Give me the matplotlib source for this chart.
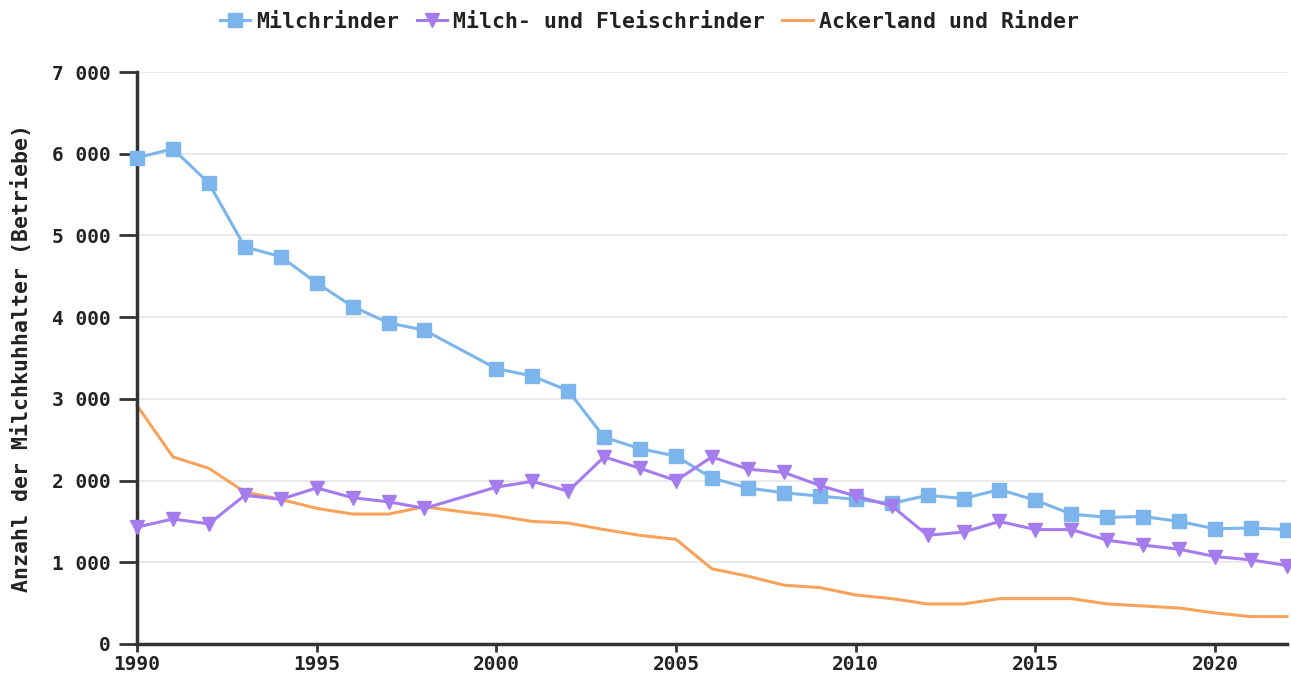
import numpy as np
import matplotlib.pyplot as plt
from matplotlib.ticker import FuncFormatter

# Werte
years_milch = [1990, 1991, 1992, 1993, 1994, 1995, 1996, 1997, 1998,
               2000, 2001, 2002, 2003, 2004, 2005, 2006, 2007, 2008, 2009,
               2010, 2011, 2012, 2013, 2014, 2015, 2016, 2017, 2018, 2019,
               2020, 2021, 2022]
milchrinder = [5950, 6060, 5640, 4860, 4740, 4420, 4130, 3930, 3840,
               3370, 3280, 3100, 2530, 2390, 2300, 2030, 1910, 1850, 1810,
               1770, 1720, 1820, 1780, 1890, 1760, 1590, 1550, 1560, 1500,
               1410, 1420, 1400]
milch_fleisch = [1430, 1530, 1470, 1820, 1770, 1910, 1790, 1740, 1660,
                 1920, 1990, 1870, 2290, 2150, 2000, 2290, 2140, 2100, 1940,
                 1810, 1690, 1330, 1370, 1500, 1400, 1400, 1270, 1210, 1160,
                 1070, 1030, 960]

years_acker = list(range(1990, 2023))
ackerland = [2920, 2290, 2150, 1860, 1770, 1660, 1590, 1590, 1680, 1620,
             1570, 1500, 1480, 1400, 1330, 1280, 920, 830, 720, 690,
             600, 555, 490, 490, 555, 555, 555, 490, 465, 440,
             380, 335, 335]

labels = ["Milchrinder", "Milch- und Fleischrinder", "Ackerland und Rinder"]
colors = ["#7cb5ec", "#a57cee", "#f7a35c"]

plt.rcParams['font.family'] = ['DejaVu Sans Mono']
plt.rcParams['font.weight'] = 'bold'

fig = plt.figure(figsize=(12.91, 6.84), dpi=100)
ax = fig.add_axes([0.1061, 0.0585, 0.8908, 0.8362])

ax.plot(years_milch, milchrinder, color=colors[0], lw=2.2, marker='s',
        markersize=10, label=labels[0], clip_on=False, zorder=3)
ax.plot(years_milch, milch_fleisch, color=colors[1], lw=2.2, marker='v',
        markersize=10, label=labels[1], clip_on=False, zorder=3)
ax.plot(years_acker, ackerland, color=colors[2], lw=2.2,
        label=labels[2], clip_on=False, zorder=2)

ax.set_xlim(1990, 2022)
ax.set_ylim(0, 7000)
ax.set_xticks(np.arange(1990, 2021, 5))
ax.set_yticks(np.arange(0, 7001, 1000))
ax.yaxis.set_major_formatter(FuncFormatter(lambda v, p: f"{int(v):,}".replace(",", " ")))

ax.grid(axis='y', color='#e6e6e6', lw=1.2)
ax.set_axisbelow(True)
for s in ['top', 'right']:
    ax.spines[s].set_visible(False)
for s in ['left', 'bottom']:
    ax.spines[s].set_color('#333333')
    ax.spines[s].set_linewidth(2.5)

ax.tick_params(axis='y', length=13, width=2, color='#333333',
               labelsize=14, labelcolor='#222222', pad=6)
ax.tick_params(axis='x', length=6, width=2, color='#333333',
               labelsize=14, labelcolor='#222222', pad=2)

ax.set_ylabel("Anzahl der Milchkuhhalter (Betriebe)", fontsize=15.5,
              fontweight='bold', color='#222222', labelpad=14)

fig.legend(loc='center', bbox_to_anchor=(0.503, 0.968), ncol=3, frameon=False,
           fontsize=15.5, handlelength=1.4, handletextpad=0.3, columnspacing=0.8,
           labelcolor='#222222')

plt.savefig("out.png", dpi=100)
